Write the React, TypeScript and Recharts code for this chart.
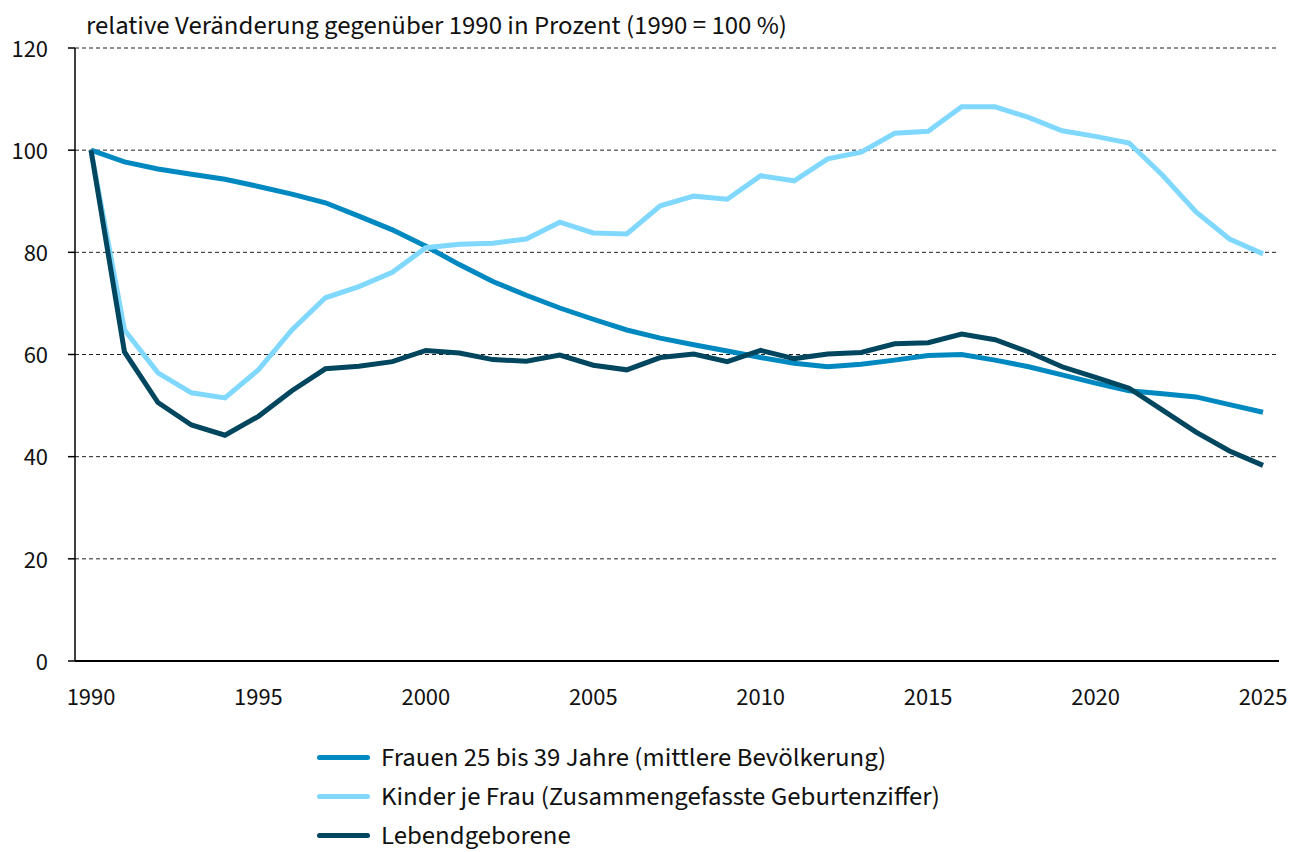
import { CartesianGrid, Line, LineChart, XAxis, YAxis } from "recharts";

const years = Array.from({ length: 36 }, (_, i) => 1990 + i);

const frauen = [
  100, 97.7, 96.3, 95.3, 94.3, 92.9, 91.4, 89.7, 87.1, 84.4, 81.2, 77.6, 74.3, 71.6, 69.1, 66.9, 64.8, 63.2,
  61.9, 60.7, 59.4, 58.3, 57.6, 58.1, 58.9, 59.8, 60.0, 58.9, 57.6, 56.0, 54.4, 52.9, 52.3, 51.7, 50.2, 48.7,
];
const kinder = [
  100, 64.8, 56.4, 52.5, 51.5, 57.0, 64.8, 71.1, 73.3, 76.1, 80.9, 81.6, 81.8, 82.6, 85.9, 83.8, 83.6, 89.1,
  91.0, 90.4, 95.0, 94.0, 98.3, 99.6, 103.3, 103.7, 108.5, 108.5, 106.4, 103.8, 102.7, 101.4, 95.1, 87.9, 82.6,
  79.7,
];
const lebend = [
  100, 60.5, 50.6, 46.2, 44.2, 47.9, 52.9, 57.2, 57.7, 58.6, 60.8, 60.3, 59.0, 58.7, 59.9, 57.9, 57.0, 59.4,
  60.1, 58.6, 60.8, 59.2, 60.1, 60.4, 62.1, 62.3, 64.0, 62.9, 60.5, 57.6, 55.5, 53.4, 49.1, 44.8, 41.1, 38.3,
];

const xTicks = [1990, 1995, 2000, 2005, 2010, 2015, 2020, 2025];
const yTicks = [0, 20, 40, 60, 80, 100, 120];

const seriesNames = [
  "Frauen 25 bis 39 Jahre (mittlere Bevölkerung)",
  "Kinder je Frau (Zusammengefasste Geburtenziffer)",
  "Lebendgeborene",
];
const colors = ["#0089c0", "#80d8ff", "#00465f"];

const data = years.map((year, i) => ({ year, frauen: frauen[i], kinder: kinder[i], lebend: lebend[i] }));

const font = "'Source Sans Pro', 'Source Sans 3', Lato, sans-serif";

function LegendBox() {
  return (
    <div style={{ position: "absolute", left: 317, top: 738, fontFamily: font, fontSize: 26.8, color: "#111", whiteSpace: "nowrap" }}>
      {seriesNames.map((name, i) => (
        <div key={name} style={{ display: "flex", alignItems: "center", height: 39 }}>
          <span
            style={{ display: "inline-block", width: 53, height: 5, borderRadius: 3, background: colors[i], marginRight: 11 }}
          />
          {name}
        </div>
      ))}
    </div>
  );
}

export default function App() {
  return (
    <div style={{ position: "absolute", left: 0, top: 0, width: 1306, height: 852, background: "#fff" }}>
      <LineChart width={1306} height={852} data={data} margin={{ top: 48, right: 27, bottom: 151, left: 0 }}>
        <CartesianGrid vertical={false} stroke="#222" strokeDasharray="4 3" strokeWidth={1} />
        <XAxis
          dataKey="year"
          type="number"
          domain={[1990, 2025]}
          ticks={xTicks}
          padding={{ left: 16, right: 16 }}
          tickLine={false}
          tickSize={0}
          tickMargin={27}
          axisLine={{ stroke: "#000", strokeWidth: 2 }}
          tick={{ fill: "#111", fontSize: 24.5, fontFamily: font }}
          height={40}
        />
        <YAxis
          domain={[0, 120]}
          ticks={yTicks}
          width={75}
          tickSize={7}
          tickMargin={20}
          axisLine={{ stroke: "#000", strokeWidth: 1.5 }}
          tickLine={{ stroke: "#000", strokeWidth: 1.5 }}
          tick={{ fill: "#111", fontSize: 24.5, fontFamily: font }}
        />
        <YAxis yAxisId="r" orientation="right" width={0} tick={false} tickLine={false} axisLine={{ stroke: "#000", strokeWidth: 1 }} />
        <Line dataKey="frauen" name={seriesNames[0]} stroke={colors[0]} strokeWidth={5} dot={false} isAnimationActive={false} />
        <Line dataKey="kinder" name={seriesNames[1]} stroke={colors[1]} strokeWidth={5} dot={false} isAnimationActive={false} />
        <Line dataKey="lebend" name={seriesNames[2]} stroke={colors[2]} strokeWidth={5} dot={false} isAnimationActive={false} />
      </LineChart>
      <div style={{ position: "absolute", left: 86, top: 7, fontFamily: font, fontSize: 26.8, color: "#111", whiteSpace: "nowrap" }}>
        relative Veränderung gegenüber 1990 in Prozent (1990 = 100 %)
      </div>
      <LegendBox />
    </div>
  );
}
